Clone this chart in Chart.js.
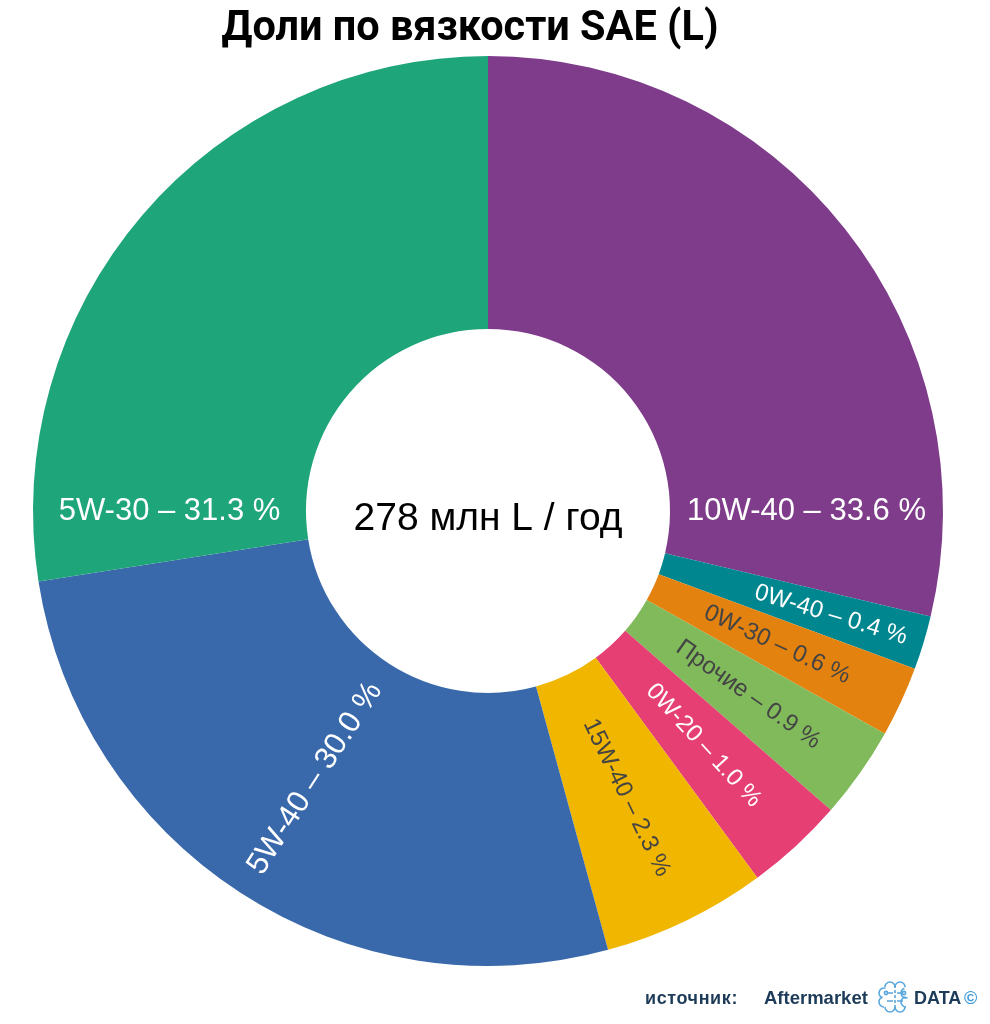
<!DOCTYPE html>
<html lang="ru">
<head>
<meta charset="utf-8">
<title>Доли по вязкости SAE (L)</title>
<script src="https://cdn.jsdelivr.net/npm/chart.js@4.4.1/dist/chart.umd.min.js"></script>
<style>
  html, body { margin: 0; padding: 0; background: #fff; }
  #wrap { position: relative; width: 990px; height: 1024px; }
</style>
</head>
<body>
<div id="wrap"><canvas id="pieChart"></canvas></div>
<script>
// данные
const grades = ["10W-40", "0W-40", "0W-30", "Прочие", "0W-20", "15W-40", "5W-40", "5W-30"];
const shares = [33.6, 0.4, 0.6, 0.9, 1.0, 2.3, 30.0, 31.3];
// размер сектора на картинке (градусы) – не пропорционален долям
const sliceDeg = [103.4, 6.9, 9.0, 11.8, 12.6, 21.0, 96.4, 98.9];
const totalText = "278 млн L / год";
const titleText = "Доли по вязкости SAE (L)";

const colors = ["#7e3c8b", "#00868f", "#e3820e", "#80ba5b", "#e63f74", "#f1b600", "#3a69ab", "#1fa57a"];
const textColors = ["#fff", "#fff", "#444", "#444", "#fff", "#444", "#fff", "#fff"];

const LABEL_FONT = "'Liberation Sans', Arial, sans-serif";
const TAU = Math.PI * 2;

// подписи внутри секторов
const sliceLabels = {
  id: "sliceLabels",
  afterDatasetsDraw(chart) {
    const ctx = chart.ctx;
    const arcs = chart.getDatasetMeta(0).data;
    ctx.save();
    ctx.textBaseline = "middle";
    ctx.textAlign = "center";
    arcs.forEach((arc, i) => {
      const p = arc.getProps(["x", "y", "startAngle", "endAngle", "innerRadius", "outerRadius"], true);
      const txt = grades[i] + " – " + shares[i].toFixed(1) + " %";
      const span = p.endAngle - p.startAngle;
      const midR = (p.innerRadius + p.outerRadius) / 2;
      const has = a => (((a - p.startAngle) % TAU) + TAU) % TAU <= span;
      ctx.fillStyle = textColors[i];

      // сектор пересекает горизонталь -> текст горизонтально
      if (has(0) || has(Math.PI)) {
        const a = has(0) ? 0 : Math.PI;
        ctx.font = "31px " + LABEL_FONT;
        ctx.fillText(txt, p.x + Math.cos(a) * midR, p.y);
        return;
      }

      const size = span > Math.PI / 4 ? 31 : 24;
      ctx.font = size + "px " + LABEL_FONT;
      const mid = (p.startAngle + p.endAngle) / 2;
      const w = ctx.measureText(txt).width;
      // узкий сектор: сдвигаем текст наружу
      const r = Math.max(midR, w / 2 + 1.4 * size / (2 * Math.sin(span / 2)));
      let rot = mid;
      if (Math.cos(mid) < 0) rot = mid + Math.PI;
      ctx.save();
      ctx.translate(p.x + Math.cos(mid) * r, p.y + Math.sin(mid) * r);
      ctx.rotate(rot);
      ctx.fillText(txt, 0, 0);
      ctx.restore();
    });
    ctx.restore();
  }
};

function drawBrain(ctx, cx, cy) {
  ctx.save();
  ctx.strokeStyle = "#5aa7dd";
  ctx.lineWidth = 1.6;
  [-1, 1].forEach(s => {
    ctx.beginPath();
    ctx.arc(cx + s * 5, cy - 10, 5, Math.PI, 0);
    ctx.stroke();
    ctx.beginPath();
    ctx.arc(cx + s * 11, cy - 4, 5, s < 0 ? Math.PI * 0.6 : -Math.PI * 0.6, s < 0 ? Math.PI * 1.6 : Math.PI * 0.4, s > 0);
    ctx.stroke();
    ctx.beginPath();
    ctx.arc(cx + s * 11, cy + 5, 5, s < 0 ? Math.PI * 0.5 : -Math.PI * 0.5, s < 0 ? Math.PI * 1.4 : Math.PI * 0.5, s > 0);
    ctx.stroke();
    ctx.beginPath();
    ctx.arc(cx + s * 5, cy + 10, 5, 0, Math.PI);
    ctx.stroke();
    // "дорожки"
    ctx.beginPath();
    ctx.moveTo(cx + s * 2, cy - 4); ctx.lineTo(cx + s * 7, cy - 4);
    ctx.moveTo(cx + s * 2, cy + 4); ctx.lineTo(cx + s * 8, cy + 4);
    ctx.stroke();
    ctx.beginPath();
    ctx.arc(cx + s * 9, cy - 4, 1.6, 0, TAU);
    ctx.stroke();
  });
  ctx.setLineDash([3, 2]);
  ctx.beginPath();
  ctx.moveTo(cx, cy - 12); ctx.lineTo(cx, cy + 13);
  ctx.stroke();
  ctx.restore();
}

// заголовок, центр, источник
const extras = {
  id: "extras",
  afterDraw(chart) {
    const ctx = chart.ctx;
    const arc = chart.getDatasetMeta(0).data[0];
    ctx.save();

    // заголовок
    ctx.fillStyle = "#000";
    ctx.textAlign = "center";
    ctx.textBaseline = "alphabetic";
    ctx.font = "bold 43px Roboto, 'Liberation Sans', sans-serif";
    const tw = ctx.measureText(titleText).width;
    const sx = Math.min(1, 497 / tw);
    ctx.save();
    ctx.translate(470, 40);
    ctx.scale(sx, 1);
    ctx.fillText(titleText, 0, 0);
    ctx.restore();

    // центр
    ctx.font = "39px " + LABEL_FONT;
    ctx.fillText(totalText, arc.x, 530);

    // источник
    ctx.textAlign = "left";
    ctx.fillStyle = "#1d3b58";
    ctx.font = "bold 18px " + LABEL_FONT;
    ctx.letterSpacing = "0.6px";
    ctx.fillText("источник:", 645, 1004);
    ctx.letterSpacing = "0px";
    ctx.font = "bold 18.5px " + LABEL_FONT;
    ctx.fillText("Aftermarket", 764, 1004);
    drawBrain(ctx, 895, 997);
    ctx.font = "bold 18px " + LABEL_FONT;
    ctx.fillText("DATA", 914, 1004);
    ctx.fillStyle = "#3d9ad8";
    ctx.fillText("©", 964, 1004);
    ctx.restore();
  }
};

const ctxPie = document.getElementById("pieChart");
new Chart(ctxPie, {
  type: "doughnut",
  data: {
    labels: grades,
    datasets: [{
      data: sliceDeg,
      backgroundColor: colors,
      borderWidth: 0,
      hoverOffset: 0
    }]
  },
  options: {
    responsive: true,
    maintainAspectRatio: false,
    animation: false,
    cutout: "40%",
    layout: { padding: { left: 33, right: 47, top: 56, bottom: 58 } },
    plugins: {
      legend: { display: false },
      title: { display: false },
      tooltip: { enabled: false }
    }
  },
  plugins: [sliceLabels, extras]
});
</script>
</body>
</html>
